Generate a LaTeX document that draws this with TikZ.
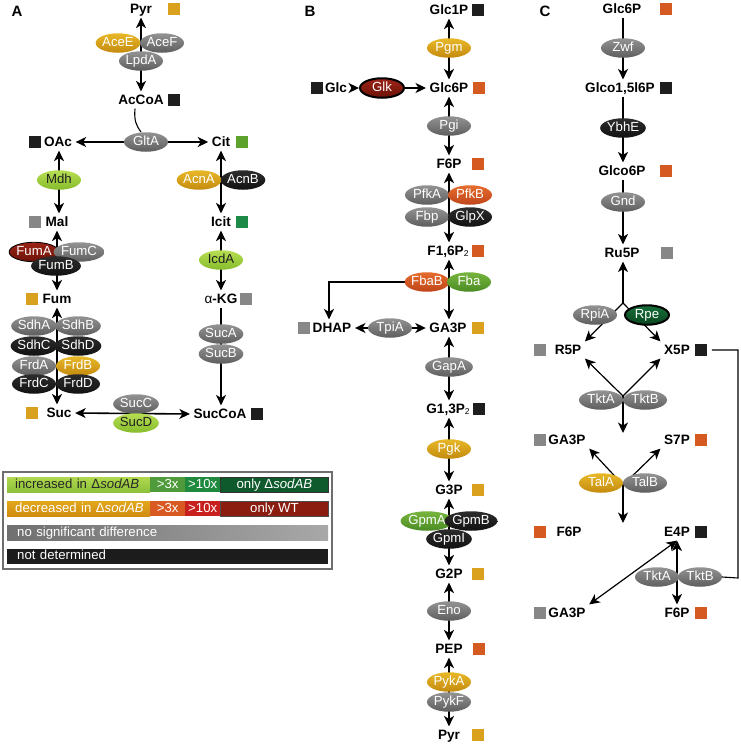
\documentclass[tikz,border=0pt]{standalone}
\usepackage{fontspec}
\setmainfont{Liberation Sans}
\usetikzlibrary{arrows.meta,shapes.geometric,calc}
\pgfdeclarelayer{bg}
\pgfsetlayers{bg,main}
\definecolor{gyT}{HTML}{939393}\definecolor{gyB}{HTML}{5E5E5E}
\definecolor{goT}{HTML}{E8B828}\definecolor{goB}{HTML}{C48A0E}
\definecolor{lgT}{HTML}{B8DE54}\definecolor{lgB}{HTML}{86BC2C}
\definecolor{gnT}{HTML}{78B53E}\definecolor{gnB}{HTML}{4A8C24}
\definecolor{orT}{HTML}{E46C2E}\definecolor{orB}{HTML}{C0451A}
\definecolor{drT}{HTML}{9C2416}\definecolor{drB}{HTML}{6C1208}
\definecolor{bkT}{HTML}{2C2C2C}\definecolor{bkB}{HTML}{121212}
\definecolor{dgT}{HTML}{16703A}\definecolor{dgB}{HTML}{0A4620}
\definecolor{sqgold}{HTML}{D9A11E}
\definecolor{sqorange}{HTML}{D45A22}
\definecolor{sqblack}{HTML}{1E1E1E}
\definecolor{sqgray}{HTML}{878787}
\definecolor{sqgreen}{HTML}{5EA22E}
\definecolor{sqdgreen}{HTML}{1E8A48}
\definecolor{lgGreenA}{HTML}{B0D84E}\definecolor{lgGreenB}{HTML}{8CC23A}
\definecolor{lgGreen3}{HTML}{4F9A3A}\definecolor{lgGreen10}{HTML}{1F8A3E}
\definecolor{lgGreenO}{HTML}{0E5A2C}
\definecolor{lgGoldA}{HTML}{E2A81C}\definecolor{lgGoldB}{HTML}{D18C10}
\definecolor{lgOr3}{HTML}{D85A22}\definecolor{lgRed10}{HTML}{C8201C}
\definecolor{lgRedO}{HTML}{8A1C10}
\definecolor{lgGrayA}{HTML}{707070}\definecolor{lgGrayB}{HTML}{A8A8A8}
\definecolor{lgBlack}{HTML}{1C1C1C}
\definecolor{legframe}{HTML}{6E6E6E}
\newcommand{\subtwo}{{\fontsize{8.5}{8.5}\selectfont\mdseries\raisebox{-1pt}{2}}}
\begin{document}
\begin{tikzpicture}[x=1pt,y=-1pt,
  met/.style={font=\fontsize{13.6}{13.6}\selectfont\bfseries, inner sep=3.5pt, text height=9.8pt, text depth=0pt},
  panel/.style={font=\fontsize{15}{15}\selectfont\bfseries, inner sep=0pt},
  enz/.style={ellipse, minimum width=44pt, minimum height=19.5pt, inner sep=0pt, text height=9pt, text depth=2.5pt, font=\fontsize{13.2}{13.2}\selectfont, text=white},
  egray/.style={enz, top color=gyT, bottom color=gyB},
  egold/.style={enz, top color=goT, bottom color=goB},
  elgreen/.style={enz, top color=lgT, bottom color=lgB, text=black!88},
  egreen/.style={enz, top color=gnT, bottom color=gnB},
  eorange/.style={enz, top color=orT, bottom color=orB},
  edred/.style={enz, top color=drT, bottom color=drB, draw=black, line width=0.8pt},
  edredb/.style={enz, top color=drT, bottom color=drB, draw=black, line width=2pt},
  eblack/.style={enz, top color=bkT, bottom color=bkB},
  edgreenb/.style={enz, top color=dgT, bottom color=dgB, draw=black, line width=2pt},
  sqr/.style={minimum size=11.5pt, inner sep=0pt, outer sep=0pt},
  cell/.style={minimum height=15pt, inner ysep=0pt, inner xsep=2pt, text height=9.5pt, text depth=2.5pt, font=\fontsize{13.2}{13.2}\selectfont, text=white, anchor=west},
  tip/.tip={Stealth[length=10.5pt,width=10pt,inset=3pt]},
  ar/.style={line width=1.6pt, -tip},
  dar/.style={line width=1.6pt, tip-tip},
  arc/.style={line width=1.2pt, -tip},
  darc/.style={line width=1.2pt, tip-tip},
  ln/.style={line width=1.1pt}
]
\useasboundingbox (0,0) rectangle (741,745);

% ================= Panel A =================
\node[panel] (labA) at (17,11) {A};
\node[met] (pyrA) at (141,9) {Pyr};
\node[sqr, fill=sqgold] (sqPyrA) at (174,9) {};
\node[egold] (aceE) at (118,43) {AceE};
\node[egray] (aceF) at (162,43) {AceF};
\node[egray] (lpdA) at (141,61) {LpdA};
\node[met] (accoa) at (141,100) {AcCoA};
\node[sqr, fill=sqblack] (sqAccoa) at (174,100) {};
\node[egray] (gltA) at (146,142) {GltA};
\node[met] (oac) at (58,142) {OAc};
\node[sqr, fill=sqblack] (sqOac) at (35,142) {};
\node[met] (cit) at (221,142) {Cit};
\node[sqr, fill=sqgreen] (sqCit) at (242,142) {};
\node[elgreen] (mdh) at (59,180) {Mdh};
\node[egold] (acnA) at (199,180) {AcnA};
\node[eblack] (acnB) at (243,180) {AcnB};
\node[met] (mal) at (57,222) {Mal};
\node[sqr, fill=sqgray] (sqMal) at (35,222) {};
\node[met] (icit) at (221,222) {Icit};
\node[sqr, fill=sqdgreen] (sqIcit) at (242,222) {};
\node[edred] (fumA) at (34,252) {FumA};
\node[egray] (fumC) at (79,252) {FumC};
\node[eblack] (fumB) at (56,266) {FumB};
\node[elgreen] (icdA) at (221,260) {IcdA};
\node[met] (fum) at (57,299) {Fum};
\node[sqr, fill=sqgold] (sqFum) at (32,299) {};
\node[met] (akg) at (221,299) {{\mdseries α}-KG};
\node[sqr, fill=sqgray] (sqAkg) at (246,299) {};
\node[egray] (sdhA) at (34,326) {SdhA};
\node[egray] (sdhB) at (78,326) {SdhB};
\node[eblack] (sdhC) at (34,346) {SdhC};
\node[eblack] (sdhD) at (78,346) {SdhD};
\node[egray] (frdA) at (34,366) {FrdA};
\node[egold] (frdB) at (78,366) {FrdB};
\node[eblack] (frdC) at (34,384) {FrdC};
\node[eblack] (frdD) at (78,384) {FrdD};
\node[egray] (sucA) at (221,334) {SucA};
\node[egray] (sucB) at (221,354) {SucB};
\node[met] (suc) at (59,413) {Suc};
\node[sqr, fill=sqgold] (sqSuc) at (32,413) {};
\node[egray] (sucC) at (136,404) {SucC};
\node[elgreen] (sucD) at (136,423) {SucD};
\node[met] (succoa) at (220,414) {SucCoA};
\node[sqr, fill=sqblack] (sqSuccoa) at (257,414) {};

% ================= Legend =================
\draw[draw=legframe, line width=1.5pt, fill=white] (3,472) rectangle (332,569);
\node[cell, text width=135pt, inner xsep=4pt, align=left, top color=lgGreenA, bottom color=lgGreenB, text=black!85] (lInc) at (7,484.5) {\hspace*{4pt}\mbox{increased in Δ\textit{sodAB}}};
\node[cell, minimum width=35pt, fill=lgGreen3] (lInc3) at (150,484.5) {>3x};
\node[cell, minimum width=35pt, fill=lgGreen10] (lInc10) at (185,484.5) {>10x};
\node[cell, minimum width=108pt, fill=lgGreenO, draw=black!80, line width=0.8pt] (lIncO) at (220,484.5) {only Δ\textit{sodAB}};
\node[cell, text width=135pt, inner xsep=4pt, align=left, top color=lgGoldA, bottom color=lgGoldB] (lDec) at (7,508.5) {\hspace*{4pt}\mbox{decreased in Δ\textit{sodAB}}};
\node[cell, minimum width=35pt, fill=lgOr3] (lDec3) at (150,508.5) {>3x};
\node[cell, minimum width=35pt, fill=lgRed10] (lDec10) at (185,508.5) {>10x};
\node[cell, minimum width=108pt, fill=lgRedO, draw=black!70, line width=0.8pt] (lDecO) at (220,508.5) {only WT};
\node[cell, text width=301pt, inner xsep=10pt, align=left, left color=lgGrayA, right color=lgGrayB] (lNsd) at (7,532.5) {no significant difference};
\node[cell, text width=301pt, inner xsep=10pt, align=left, fill=lgBlack] (lNd) at (7,556) {not determined};

% ================= Panel B =================
\coordinate (colB) at (449,0);
\node[panel] (labB) at (310,11) {B};
\node[met] (glc1p) at (449,10) {Glc1P};
\node[sqr, fill=sqblack] (sqGlc1p) at (478,10) {};
\node[egold] (pgm) at (449,48) {Pgm};
\node[met] (glc6p) at (449,88) {Glc6P};
\node[sqr, fill=sqorange] (sqGlc6p) at (479,88) {};
\node[met] (glc) at (336,88) {Glc};
\node[sqr, fill=sqblack] (sqGlc) at (317,88) {};
\node[edredb] (glk) at (382,88) {Glk};
\node[egray] (pgi) at (449,126) {Pgi};
\node[met] (f6p) at (449,164) {F6P};
\node[sqr, fill=sqorange] (sqF6p) at (478,164) {};
\node[egray] (pfkA) at (427,195) {PfkA};
\node[eorange] (pfkB) at (470,195) {PfkB};
\node[egray] (fbp) at (427,217) {Fbp};
\node[eblack] (glpX) at (470,217) {GlpX};
\node[met] (f16p) at (448,251) {F1,6P\subtwo};
\node[sqr, fill=sqorange] (sqF16p) at (478,251) {};
\node[eorange] (fbaB) at (427,282) {FbaB};
\node[egreen] (fba) at (469,282) {Fba};
\node[met] (dhap) at (332,328) {DHAP};
\node[sqr, fill=sqgray] (sqDhap) at (304,328) {};
\node[egray] (tpiA) at (390,328) {TpiA};
\node[met] (ga3p) at (448,328) {GA3P};
\node[sqr, fill=sqgold] (sqGa3p) at (478,328) {};
\node[egray] (gapA) at (449,367) {GapA};
\node[met] (g13p) at (448,409) {G1,3P\subtwo};
\node[sqr, fill=sqblack] (sqG13p) at (479,409) {};
\node[egold] (pgk) at (449,449) {Pgk};
\node[met] (g3p) at (449,490) {G3P};
\node[sqr, fill=sqgold] (sqG3p) at (478,490) {};
\node[egreen] (gpmA) at (427,521) {GpmA};
\node[eblack] (gpmB) at (471,521) {GpmB};
\node[eblack] (gpmI) at (449,539) {GpmI};
\node[met] (g2p) at (449,574) {G2P};
\node[sqr, fill=sqgold] (sqG2p) at (478,574) {};
\node[egray] (eno) at (449,611) {Eno};
\node[met] (pep) at (449,649) {PEP};
\node[sqr, fill=sqorange] (sqPep) at (479,649) {};
\node[egold] (pykA) at (449,682) {PykA};
\node[egray] (pykF) at (449,702) {PykF};
\node[met] (pyrB) at (449,735) {Pyr};
\node[sqr, fill=sqgold] (sqPyrB) at (478,735) {};

% ================= Panel C =================
\coordinate (colC) at (623,0);
\node[panel] (labC) at (545,11) {C};
\node[met] (glc6pC) at (622,9) {Glc6P};
\node[sqr, fill=sqorange] (sqGlc6pC) at (666,9) {};
\node[egray] (zwf) at (623,48) {Zwf};
\node[met] (glco15) at (620,88) {Glco1,5l6P};
\node[sqr, fill=sqblack] (sqGlco15) at (666,88) {};
\node[eblack] (ybhE) at (623,128) {YbhE};
\node[met] (glco6p) at (622,171) {Glco6P};
\node[sqr, fill=sqorange] (sqGlco6p) at (666,171) {};
\node[egray] (gnd) at (623,202) {Gnd};
\node[met] (ru5p) at (622,253) {Ru5P};
\node[sqr, fill=sqgray] (sqRu5p) at (667,253) {};
\coordinate (b1) at (623,303);
\node[egray] (rpiA) at (595,315) {RpiA};
\node[edgreenb] (rpe) at (647,315) {Rpe};
\node[met] (r5p) at (568,350) {R5P};
\node[sqr, fill=sqgray] (sqR5p) at (540,350) {};
\node[met] (x5p) at (677,350) {X5P};
\node[sqr, fill=sqblack] (sqX5p) at (701,350) {};
\node[egray] (tktA1) at (601,400) {TktA};
\node[egray] (tktB1) at (645,400) {TktB};
\coordinate (b2) at (623,396);
\coordinate (d2) at (623,433);
\node[met] (ga3pC) at (567,440) {GA3P};
\node[sqr, fill=sqgray] (sqGa3pC) at (540,440) {};
\node[met] (s7p) at (677,440) {S7P};
\node[sqr, fill=sqorange] (sqS7p) at (701,440) {};
\node[egold] (talA) at (601,483) {TalA};
\node[egray] (talB) at (645,483) {TalB};
\coordinate (b3) at (623,485);
\coordinate (d3) at (623,523);
\node[met] (f6pC) at (569,532) {F6P};
\node[sqr, fill=sqorange] (sqF6pC) at (540,532) {};
\node[met] (e4p) at (677,532) {E4P};
\node[sqr, fill=sqblack] (sqE4p) at (701,532) {};
\node[egray] (tktA2) at (657,577) {TktA};
\node[egray] (tktB2) at (700,577) {TktB};
\node[met] (ga3pC2) at (567,613) {GA3P};
\node[sqr, fill=sqgray] (sqGa3pC2) at (540,613) {};
\node[met] (f6pC2) at (677,613) {F6P};
\node[sqr, fill=sqorange] (sqF6pC2) at (701,613) {};
\coordinate (cn1) at (738,350);
\coordinate (cn2) at (738,578);

% ================= Connectors =================
\begin{pgfonlayer}{bg}
% A
\draw[dar] (pyrA.south) -- (pyrA.south |- accoa.north);
\draw[ln] ([xshift=-6pt]accoa.south) .. controls +(-1,12) and +(-5,-7) .. ([xshift=-5pt]gltA.north);
\draw[dar] (oac.east) -- (cit.west);
\draw[dar] (oac.south -| mdh) -- (mal.north -| mdh);
\draw[dar] (cit.south) -- (icit.north);
\draw[dar] (mal.south) -- (fum.north);
\draw[dar] (icit.south) -- (akg.north);
\draw[ar, line width=1.2pt] (akg.south) -- (akg.south |- succoa.north);
\draw[dar] (fum.south) -- (fum.south |- suc.north);
\draw[dar] (suc.east) -- (succoa.west);
% B
\draw[dar] (glc1p.south -| colB) -- (glc6p.north -| colB);
\draw[ar] (glc.east) -- (glk.west);
\draw[ar] (glk) -- (glc6p.west);
\draw[dar] (glc6p.south -| colB) -- (f6p.north -| colB);
\draw[dar] (f6p.south -| colB) -- (f16p.north -| colB);
\draw[dar] (f16p.south -| colB) -- (ga3p.north -| colB);
\draw[ar, line width=1.3pt] (fbaB.center) -| ([xshift=-3pt]dhap.north);
\draw[dar] (dhap.east) -- (ga3p.west);
\draw[dar] (ga3p.south -| colB) -- (g13p.north -| colB);
\draw[dar] (g13p.south -| colB) -- (g3p.north -| colB);
\draw[dar] (g3p.south -| colB) -- (g2p.north -| colB);
\draw[dar] (g2p.south -| colB) -- (pep.north -| colB);
\draw[dar] (pep.south -| colB) -- (pyrB.north -| colB);
% C
\draw[arc] (glc6pC.south -| colC) -- (glco15.north -| colC);
\draw[arc] (glco15.south -| colC) -- (glco6p.north -| colC);
\draw[arc] (glco6p.south -| colC) -- (ru5p.north -| colC);
\draw[arc] (b1) -- (ru5p.south -| b1);
\draw[arc] (b1) -- (r5p.north east);
\draw[arc] (b1) -- (x5p.north west);
\draw[arc] (b2) -- (r5p.south east);
\draw[arc] (b2) -- (x5p.south west);
\draw[arc] (b2) -- (d2);
\draw[arc] (b3) -- (ga3pC.south east);
\draw[arc] (b3) -- (s7p.south west);
\draw[arc] (b3) -- (d3);
\draw[darc] (e4p.south) -- (e4p.south |- f6pC2.north);
\draw[darc] (e4p.south) -- (ga3pC2.north east);
\draw[ln] ([xshift=5pt]sqX5p.east) -- (cn1) -- (cn2) -- (tktB2.east);
\end{pgfonlayer}
\end{tikzpicture}
\end{document}
